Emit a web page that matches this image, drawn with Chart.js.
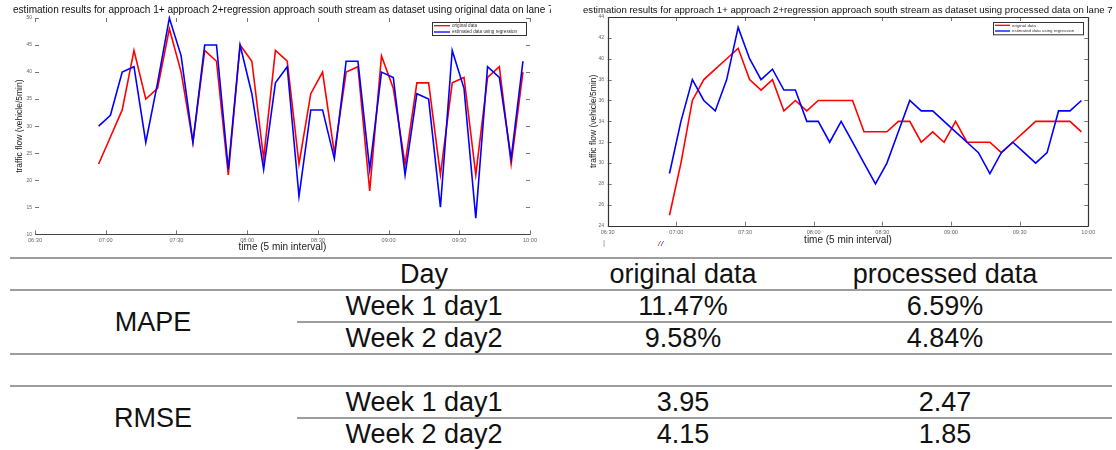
<!DOCTYPE html>
<html><head><meta charset="utf-8">
<script src="https://cdn.jsdelivr.net/npm/chart.js@4.4.0/dist/chart.umd.min.js"></script>
<style>
html,body{margin:0;padding:0;background:#fff;width:1116px;height:450px;overflow:hidden;position:relative;font-family:"Liberation Sans",Arial,sans-serif;}
canvas{position:absolute;}
.hl{position:absolute;height:2px;background:#9d9d9d;}
.tx{position:absolute;height:32px;line-height:32px;font-size:27px;color:#111;white-space:nowrap;transform:translateX(-50%);}
.mk{position:absolute;font-size:8px;line-height:8px;}
</style></head><body>
<canvas id="c1" width="560" height="256" style="left:0;top:0;width:560px;height:256px"></canvas>
<canvas id="c2" width="556" height="256" style="left:560px;top:0;width:556px;height:256px"></canvas>
<div id="tbl"></div>
<span class="mk" style="left:603px;top:239px;color:#888">|</span>
<span class="mk" style="left:658px;top:240px;color:#e00;font-style:italic">/</span><span class="mk" style="left:661px;top:240px;color:#00e;font-style:italic">/</span>
<script>
// ---------- data ----------
const timeLabels = ["06:57","07:02","07:07","07:12","07:17","07:22","07:27","07:32","07:37","07:42","07:47","07:52",
  "07:57","08:02","08:07","08:12","08:17","08:22","08:27","08:32","08:37","08:42","08:47","08:52",
  "08:57","09:02","09:07","09:12","09:17","09:22","09:27","09:32","09:37","09:42","09:47","09:52","09:57"];
const xTickLabels = ["06:30","07:00","07:30","08:00","08:30","09:00","09:30","10:00"];
const seriesNames = ["original data","estimated data using regression"];
// chart 1: original data
const origActual    = [23,28,33,44,35,37,48,40,27,44,42,21,45,42,24,44,42,23,36,40,25,40,41,18,43,37,23,38,38,21,38,39,21,39,41,23,40];
const origEstimated = [30,32,40,41,27,38,50,43,27,45,45,22,45,36,22,38,41,17,33,33,24,42,42,22,40,39,21,36,35,15,44,37,13,41,39,24,42];
// chart 2: processed data
const procActual    = [25,30,36,38,39,40,41,38,37,38,35,36,35,36,36,36,36,33,33,33,34,34,32,33,32,34,32,32,32,31,32,33,34,34,34,34,33];
const procEstimated = [29,34,38,36,35,38,43,40,38,39,37,37,34,34,32,34,32,30,28,30,33,36,35,35,34,33,32,31,29,31,32,31,30,31,35,35,36];
const leftYTicks  = [10,15,20,25,30,35,40,45,50];
const rightYTicks = [24,26,28,30,32,34,36,38,40,42,44];
const titleLeft  = "estimation results for approach 1+ approach 2+regression approach south stream as dataset using original data on lane 7";
const titleRight = "estimation results for approach 1+ approach 2+regression approach south stream as dataset using processed data on lane 7";
const yTitle = "traffic flow (vehicle/5min)";
const xTitle = "time (5 min interval)";
// table
const tableHeader = ["Day","original data","processed data"];
const metricNames = ["MAPE","RMSE"];
const dayNames = ["Week 1 day1","Week 2 day2"];
const mapeOriginal = ["11.47%","9.58%"];
const mapeProcessed = ["6.59%","4.84%"];
const rmseOriginal = ["3.95","4.15"];
const rmseProcessed = ["2.47","1.85"];

// ---------- helpers ----------
const toMin = s => { const [h,m] = s.split(":").map(Number); return h*60+m; };
const fmt = v => { const h = Math.floor(v/60), m = Math.round(v%60); return String(h).padStart(2,"0")+":"+String(m).padStart(2,"0"); };
const FONT = "'Liberation Sans', Arial, sans-serif";

const frameTicks = {
  id:'frameTicks',
  afterDraw(chart, args, o){
    const {ctx, chartArea:a, scales:{x,y}} = chart;
    ctx.save();
    ctx.lineWidth = 1;
    ctx.strokeStyle = o.tickColor;
    ctx.beginPath();
    y.ticks.forEach(t=>{
      const p = Math.round(y.getPixelForValue(t.value))+0.5;
      ctx.moveTo(a.left, p); ctx.lineTo(a.left+o.len, p);
      ctx.moveTo(a.right, p); ctx.lineTo(a.right-o.len, p);
    });
    x.ticks.forEach(t=>{
      const p = Math.round(x.getPixelForValue(t.value))+0.5;
      ctx.moveTo(p, a.bottom); ctx.lineTo(p, a.bottom-o.len);
      ctx.moveTo(p, a.top); ctx.lineTo(p, a.top+o.len);
    });
    ctx.stroke();
    ctx.strokeStyle = o.frameColor;
    ctx.lineWidth = o.frameWidth;
    ctx.beginPath();
    const L=Math.round(a.left)+0.5, R=Math.round(a.right)+0.5, T=Math.round(a.top)+0.5, B=Math.round(a.bottom)+0.5;
    if (o.sides.includes('b')) { ctx.moveTo(L,B); ctx.lineTo(R,B); }
    if (o.sides.includes('l')) { ctx.moveTo(L,T); ctx.lineTo(L,B); }
    if (o.sides.includes('r')) { ctx.moveTo(R,T); ctx.lineTo(R,B); }
    if (o.sides.includes('t')) { ctx.moveTo(L,T); ctx.lineTo(R,T); }
    ctx.stroke();
    ctx.restore();
  }
};
const boxLegend = {
  id:'boxLegend',
  afterDraw(chart, args, o){
    const ctx = chart.ctx; ctx.save();
    ctx.fillStyle = '#fff'; ctx.fillRect(o.x, o.y, o.w, o.h);
    ctx.strokeStyle = '#333'; ctx.lineWidth = 1; ctx.strokeRect(o.x+0.5, o.y+0.5, o.w, o.h);
    chart.data.datasets.forEach((ds,i)=>{
      const yy = o.y + o.row0 + i*o.rowH;
      ctx.strokeStyle = ds.borderColor; ctx.lineWidth = 1.3;
      ctx.beginPath(); ctx.moveTo(o.x+o.lx, yy); ctx.lineTo(o.x+o.lx+o.lineW, yy); ctx.stroke();
      ctx.fillStyle = '#333'; ctx.font = o.fontSize+"px "+FONT; ctx.textBaseline = 'middle';
      ctx.fillText(ds.label, o.x+o.lx+o.lineW+2, yy);
    });
    ctx.restore();
  }
};
const topTitle = {
  id:'topTitle',
  afterDraw(chart, args, o){
    const ctx = chart.ctx; ctx.save();
    ctx.beginPath(); ctx.rect(0,0,o.clip,16); ctx.clip();
    ctx.font = "10px "+FONT;
    const w = ctx.measureText(o.text).width;
    const fs = 10*o.width/w;
    ctx.font = fs+"px "+FONT;
    ctx.fillStyle = '#111'; ctx.textBaseline = 'middle'; ctx.textAlign = 'left';
    ctx.fillText(o.text, o.x, o.y);
    ctx.restore();
  }
};

function makeChart(id, actual, estimated, cfg){
  return new Chart(document.getElementById(id), {
    type:'line',
    data:{ datasets:[
      {label:seriesNames[0], data:timeLabels.map((t,i)=>({x:toMin(t), y:actual[i]})), borderColor:'#ff0000', borderWidth:1.6, pointRadius:0, tension:0, order:1, clip:false},
      {label:seriesNames[1], data:timeLabels.map((t,i)=>({x:toMin(t), y:estimated[i]})), borderColor:'#0000ff', borderWidth:1.6, pointRadius:0, tension:0, order:0, clip:false}
    ]},
    options:{
      responsive:false, animation:false, devicePixelRatio:1,
      layout:{padding:{top:cfg.top, right:cfg.right, left:0, bottom:0}},
      plugins:{
        legend:{display:false}, tooltip:{enabled:false}, title:{display:false},
        frameTicks:cfg.frame, boxLegend:cfg.legend, topTitle:cfg.title
      },
      scales:{
        x:{type:'linear', min:toMin(xTickLabels[0]), max:toMin(xTickLabels[xTickLabels.length-1]),
           afterBuildTicks:s=>{ s.ticks = xTickLabels.map(l=>({value:toMin(l)})); },
           ticks:{callback:v=>fmt(v), color:'#666', font:{family:FONT, size:5.6}, padding:cfg.xTickPad, maxRotation:0, autoSkip:false},
           grid:{display:false, drawTicks:false}, border:{display:false},
           title:{display:true, text:xTitle, color:'#222', font:{family:FONT, size:10}, padding:{top:0,bottom:cfg.xTitlePad}},
           afterFit:s=>{ s.height = cfg.xHeight; }},
        y:{type:'linear', min:cfg.yTicks[0], max:cfg.yTicks[cfg.yTicks.length-1],
           afterBuildTicks:s=>{ s.ticks = cfg.yTicks.map(v=>({value:v})); },
           ticks:{color:'#666', font:{family:FONT, size:5}, padding:cfg.yTickPad},
           grid:{display:false, drawTicks:false}, border:{display:false},
           title:{display:true, text:yTitle, color:'#222', font:{family:FONT, size:8.5}, padding:{top:cfg.yTitlePad,bottom:0}},
           afterFit:s=>{ s.width = cfg.yWidth; }}
      }
    },
    plugins:[frameTicks, boxLegend, topTitle]
  });
}

makeChart('c1', origActual, origEstimated, {
  top:18, right:30, xHeight:256-234.3, yWidth:35, yTicks:leftYTicks,
  xTickPad:3, xTitlePad:3, yTickPad:3, yTitlePad:14.3,
  frame:{tickColor:'#777', len:4, frameColor:'#444', frameWidth:1.2, sides:'b'},
  legend:{x:432, y:22, w:94, h:13, row0:3.7, rowH:6.3, lx:2, lineW:16, fontSize:4.6},
  title:{text:titleLeft, x:13, y:10, width:541, clip:551}
});
makeChart('c2', procActual, procEstimated, {
  top:17, right:556-528.3, xHeight:256-225.7, yWidth:47.7, yTicks:rightYTicks,
  xTickPad:3, xTitlePad:10, yTickPad:3.7, yTitlePad:28.3,
  frame:{tickColor:'#777', len:4, frameColor:'#333', frameWidth:1.2, sides:'bltr'},
  legend:{x:433, y:22, w:90, h:12.3, row0:3.3, rowH:5.7, lx:2, lineW:15, fontSize:4.4},
  title:{text:titleRight, x:23, y:10, width:530, clip:556}
});

// ---------- table ----------
const tbl = document.getElementById('tbl');
function hline(top, left, right){ const d=document.createElement('div'); d.className='hl'; d.style.top=top+'px'; d.style.left=left+'px'; d.style.width=(right-left)+'px'; tbl.appendChild(d); }
function txt(s, cx, cy){ const d=document.createElement('div'); d.className='tx'; d.textContent=s; d.style.left=cx+'px'; d.style.top=(cy-16)+'px'; tbl.appendChild(d); }
const colX = [153, 424, 683, 945];
hline(257,10,1112); hline(289,10,1112); hline(321,297,1112); hline(353,10,1112); hline(385,10,1112); hline(417,297,1112);
tableHeader.forEach((h,i)=>txt(h, colX[i+1], 274));
txt(metricNames[0], colX[0], 322);
dayNames.forEach((d,i)=>{ txt(d, colX[1], 306+32*i); txt(mapeOriginal[i], colX[2], 306+32*i); txt(mapeProcessed[i], colX[3], 306+32*i); });
txt(metricNames[1], colX[0], 418);
dayNames.forEach((d,i)=>{ txt(d, colX[1], 402+32*i); txt(rmseOriginal[i], colX[2], 402+32*i); txt(rmseProcessed[i], colX[3], 402+32*i); });
</script>
</body></html>
